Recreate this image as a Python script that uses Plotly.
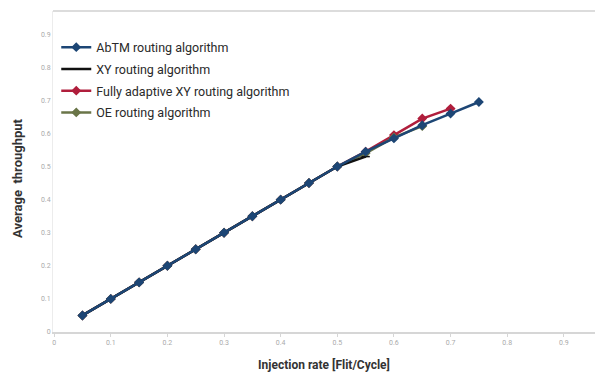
import plotly.graph_objects as go

# Injection rates (flit/cycle) and average throughput for each routing algorithm
rate_abtm = [0.05, 0.10, 0.15, 0.20, 0.25, 0.30, 0.35, 0.40, 0.45, 0.50, 0.55, 0.60, 0.65, 0.70, 0.75]
thr_abtm = [0.05, 0.10, 0.15, 0.20, 0.25, 0.30, 0.35, 0.40, 0.45, 0.50, 0.545, 0.585, 0.625, 0.66, 0.695]

rate_xy = [0.05, 0.10, 0.15, 0.20, 0.25, 0.30, 0.35, 0.40, 0.45, 0.50, 0.55]
thr_xy = [0.05, 0.10, 0.15, 0.20, 0.25, 0.30, 0.35, 0.40, 0.45, 0.50, 0.53]

rate_fa = [0.05, 0.10, 0.15, 0.20, 0.25, 0.30, 0.35, 0.40, 0.45, 0.50, 0.55, 0.60, 0.65, 0.70]
thr_fa = [0.05, 0.10, 0.15, 0.20, 0.25, 0.30, 0.35, 0.40, 0.45, 0.50, 0.545, 0.595, 0.645, 0.675]

rate_oe = [0.05, 0.10, 0.15, 0.20, 0.25, 0.30, 0.35, 0.40, 0.45, 0.50, 0.55, 0.60, 0.65]
thr_oe = [0.05, 0.10, 0.15, 0.20, 0.25, 0.30, 0.35, 0.40, 0.45, 0.50, 0.54, 0.588, 0.622]

x_ticks = [0, 0.1, 0.2, 0.3, 0.4, 0.5, 0.6, 0.7, 0.8, 0.9]
y_ticks = [0, 0.1, 0.2, 0.3, 0.4, 0.5, 0.6, 0.7, 0.8, 0.9]

# name, x, y, colour, marker symbol, legend position
series = [
    ("AbTM routing algorithm", rate_abtm, thr_abtm, "#1d4675", "diamond", 1),
    ("XY routing algorithm", rate_xy, thr_xy, "#111111", "line-ew", 2),
    ("Fully adaptive XY routing algorithm", rate_fa, thr_fa, "#b01e3c", "diamond", 3),
    ("OE routing algorithm", rate_oe, thr_oe, "#6a7548", "diamond", 4),
]

fig = go.Figure()
# draw order: the AbTM line sits on top of the others
for name, xs, ys, color, sym, rank in [series[2], series[3], series[1], series[0]]:
    fig.add_trace(go.Scatter(
        x=xs, y=ys, name=name, mode="lines+markers",
        legendrank=rank, legendgroup=f"g{rank}",
        line=dict(color=color, width=2.5),
        marker=dict(color=color, size=6, symbol=sym,
                    line=dict(color=color, width=1.5)),
    ))

fig.update_layout(
    width=595, height=377,
    margin=dict(l=53, r=0, t=11, b=45),
    paper_bgcolor="white", plot_bgcolor="white",
    font=dict(family="Roboto, Arial, sans-serif", color="#333333"),
    showlegend=True,
    legend=dict(
        x=0.006, y=0.933, xanchor="left", yanchor="top",
        traceorder="grouped",
        font=dict(size=12.5, color="#2a2a2a"),
        bgcolor="rgba(0,0,0,0)",
        tracegroupgap=2.5,
    ),
    xaxis=dict(
        range=[-0.002, 0.955], tickvals=x_ticks,
        ticktext=[str(v) if v else "0" for v in x_ticks],
        showgrid=False, zeroline=False,
        showline=True, linecolor="#d6d6d6", linewidth=1.5,
        ticks="outside", ticklen=3, tickcolor="#d6d6d6",
        tickfont=dict(size=7, color="#aaaaaa"),
        title=dict(text="<b>Injection rate [Flit/Cycle]</b>",
                   font=dict(size=12, color="#333333"), standoff=14),
    ),
    yaxis=dict(
        range=[0, 0.97], tickvals=y_ticks,
        ticktext=[str(v) if v else "0" for v in y_ticks],
        showgrid=False, zeroline=False,
        showline=True, linecolor="#ececec", linewidth=1, mirror=False,
        ticks="", tickfont=dict(size=7, color="#aaaaaa"),
    ),
)

# vertical axis title, set slightly below the middle of the plot area
fig.add_annotation(
    text="<b>Average  throughput</b>", textangle=-90,
    xref="paper", yref="paper", x=-35 / 542, y=0.48,
    xanchor="center", yanchor="middle", showarrow=False,
    font=dict(size=13, color="#333333"),
)

# light frame line along the top of the plotting area
fig.add_shape(type="line", xref="paper", yref="paper",
              x0=0, x1=1, y0=1, y1=1,
              line=dict(color="#dcdcdc", width=2))

fig.write_html("out.html")
